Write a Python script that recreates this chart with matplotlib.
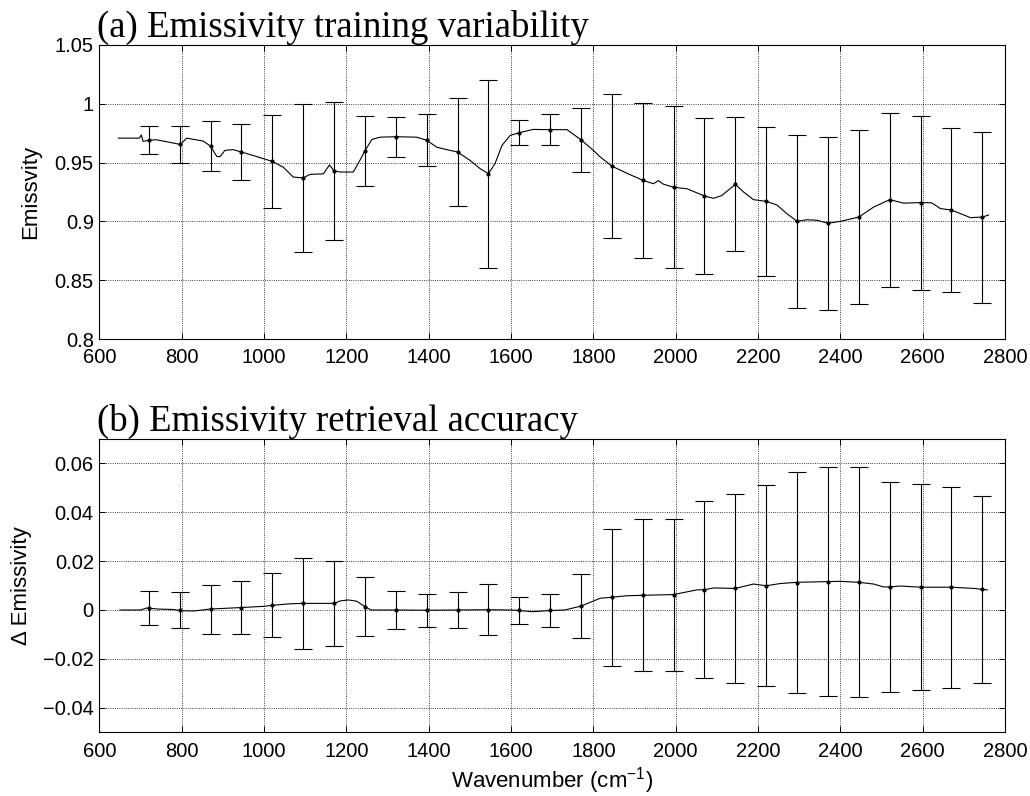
import matplotlib
matplotlib.use("Agg")
import matplotlib.pyplot as plt
import numpy as np

plt.rcParams['font.family'] = ['Liberation Sans', 'DejaVu Sans']
plt.rcParams['mathtext.fontset'] = 'custom'
plt.rcParams['mathtext.rm'] = 'Liberation Sans'

# wavenumbers of the sample points with error bars (cm-1)
wn_pts = [720, 795, 870, 945, 1020, 1095, 1170, 1245, 1320, 1395, 1470, 1545, 1620, 1695,
          1770, 1845, 1920, 1995, 2070, 2145, 2220, 2295, 2370, 2445, 2520, 2595, 2670, 2745]

# (a) training set mean emissivity and standard deviation
emis_mean = [0.969, 0.9654, 0.964, 0.959, 0.951, 0.937, 0.943, 0.960, 0.972, 0.969, 0.959, 0.9406,
             0.9754, 0.978, 0.9694, 0.947, 0.935, 0.929, 0.9216, 0.9315, 0.917, 0.900, 0.8984,
             0.9037, 0.9185, 0.916, 0.9097, 0.9037]
emis_std = [0.012, 0.0155, 0.021, 0.024, 0.0395, 0.063, 0.0585, 0.030, 0.017, 0.022, 0.046, 0.080,
            0.0105, 0.013, 0.027, 0.061, 0.066, 0.069, 0.066, 0.057, 0.063, 0.0735, 0.0735, 0.074,
            0.074, 0.074, 0.0695, 0.0727]

# (a) mean emissivity spectrum
spec_wn = [646, 697, 702, 706, 720, 739, 780, 797, 812, 852, 870, 885, 893, 905, 925, 945, 974,
           1020, 1047, 1071, 1095, 1112, 1144, 1159, 1170, 1184, 1217, 1233, 1245, 1262, 1282,
           1320, 1371, 1395, 1420, 1444, 1470, 1500, 1525, 1545, 1561, 1578, 1598, 1620, 1654,
           1695, 1736, 1770, 1800, 1816, 1845, 1881, 1920, 1946, 1958, 1970, 1995, 2027, 2070,
           2092, 2112, 2145, 2165, 2189, 2220, 2246, 2270, 2295, 2319, 2343, 2370, 2400, 2445,
           2481, 2520, 2554, 2595, 2622, 2643, 2670, 2716, 2745, 2760]
spec_emis = [0.9708, 0.9708, 0.9735, 0.9680, 0.969, 0.9694, 0.9666, 0.9654, 0.9708, 0.9683, 0.964,
             0.9553, 0.955, 0.9604, 0.961, 0.959, 0.956, 0.951, 0.946, 0.9377, 0.937, 0.940,
             0.9404, 0.948, 0.943, 0.942, 0.942, 0.952, 0.960, 0.9697, 0.9716, 0.972, 0.9716,
             0.969, 0.963, 0.961, 0.959, 0.952, 0.9448, 0.9406, 0.949, 0.9646, 0.9731, 0.9754,
             0.9782, 0.978, 0.978, 0.9694, 0.9604, 0.955, 0.947, 0.941, 0.935, 0.932, 0.9347,
             0.9317, 0.929, 0.9278, 0.9216, 0.9196, 0.922, 0.9315, 0.925, 0.9185, 0.917, 0.914,
             0.9066, 0.900, 0.9014, 0.901, 0.8984, 0.900, 0.9037, 0.9122, 0.9185, 0.9155, 0.916,
             0.9158, 0.9109, 0.9097, 0.9032, 0.9037, 0.9054]

# (b) retrieval bias and standard deviation
bias_mean = [0.0008, 0.0, 0.0004, 0.001, 0.0019, 0.0027, 0.0027, 0.0014, 0.0, -0.0001, 0.0, 0.0001,
             -0.0002, -0.0002, 0.0016, 0.0052, 0.006, 0.0063, 0.0083, 0.0088, 0.0099, 0.0112,
             0.0116, 0.0113, 0.0094, 0.0093, 0.0093, 0.0084]
bias_std = [0.007, 0.0073, 0.010, 0.011, 0.013, 0.0185, 0.0172, 0.012, 0.0077, 0.0068, 0.0075,
            0.0104, 0.0054, 0.0066, 0.0132, 0.028, 0.031, 0.031, 0.036, 0.0385, 0.041, 0.045,
            0.0467, 0.047, 0.043, 0.042, 0.041, 0.038]

# (b) bias spectrum
bias_wn = [650, 700, 715, 720, 740, 780, 800, 830, 870, 945, 1000, 1020, 1060, 1095, 1140, 1170,
           1185, 1205, 1225, 1245, 1260, 1320, 1395, 1470, 1545, 1600, 1620, 1650, 1680, 1695,
           1731, 1770, 1817, 1845, 1880, 1920, 1995, 2051, 2070, 2092, 2145, 2189, 2220, 2254,
           2295, 2370, 2400, 2445, 2481, 2505, 2520, 2546, 2595, 2670, 2725, 2745, 2757]
bias_spec = [0.0, 0.0, 0.0008, 0.0008, 0.0004, 0.0002, -0.0003, -0.0004, 0.0004, 0.001, 0.0015,
             0.0019, 0.0025, 0.0027, 0.0027, 0.0027, 0.0037, 0.0041, 0.0036, 0.0014, 0.0, 0.0,
             -0.0001, 0.0, 0.0001, 0.0, -0.0002, -0.0007, -0.0004, -0.0002, 0.0, 0.0016, 0.0048,
             0.0052, 0.0058, 0.006, 0.0063, 0.0082, 0.0083, 0.009, 0.0088, 0.0106, 0.0099, 0.0108,
             0.0113, 0.0116, 0.0117, 0.0113, 0.0106, 0.0094, 0.0094, 0.0098, 0.0093, 0.0093,
             0.0088, 0.0084, 0.0082]

xticks = [600, 800, 1000, 1200, 1400, 1600, 1800, 2000, 2200, 2400, 2600, 2800]
yticks_a = [0.8, 0.85, 0.9, 0.95, 1.0, 1.05]
ylabels_a = ['0.8', '0.85', '0.9', '0.95', '1', '1.05']
yticks_b = [-0.04, -0.02, 0, 0.02, 0.04, 0.06]
ylabels_b = ['\u22120.04', '\u22120.02', '0', '0.02', '0.04', '0.06']

fig = plt.figure(figsize=(10.30, 7.96), dpi=100)
ax1 = fig.add_axes([0.0965, 0.5741, 0.8792, 0.3694])
ax2 = fig.add_axes([0.0965, 0.0798, 0.8792, 0.3693])


def style(ax, yticks, ylabels, ylim):
    ax.set_xlim(600, 2800)
    ax.set_ylim(*ylim)
    ax.set_xticks(xticks)
    ax.set_xticklabels([str(t) for t in xticks])
    ax.set_yticks(yticks)
    ax.set_yticklabels(ylabels)
    ax.tick_params(direction='in', top=True, right=True, length=4, width=0.7,
                   labelsize=14.5)
    ax.tick_params(axis='x', pad=6.5)
    ax.tick_params(axis='y', pad=4)
    ax.grid(True, color='k', linestyle=':', linewidth=0.6)
    for s in ax.spines.values():
        s.set_linewidth(0.8)


ax1.plot(spec_wn, spec_emis, color='k', lw=0.8)
ax1.errorbar(wn_pts, emis_mean, yerr=emis_std, fmt='.', color='k', ms=4,
             elinewidth=0.8, capsize=6.5, capthick=0.8)
style(ax1, yticks_a, ylabels_a, (0.8, 1.05))
ax1.set_ylabel('Emissvity', fontsize=16)
ax1.yaxis.set_label_coords(-0.064, 0.5)
ax1.text(-0.003, 1.027, '(a) Emissivity training variability', transform=ax1.transAxes,
         fontsize=26.5, family='Liberation Serif', ha='left', va='baseline')

ax2.plot(bias_wn, bias_spec, color='k', lw=0.8)
ax2.errorbar(wn_pts, bias_mean, yerr=bias_std, fmt='.', color='k', ms=4,
             elinewidth=0.8, capsize=6.5, capthick=0.8)
style(ax2, yticks_b, ylabels_b, (-0.05, 0.07))
ax2.set_ylabel('\u0394 Emissivity', fontsize=16)
ax2.yaxis.set_label_coords(-0.074, 0.5)
ax2.set_xlabel('Wavenumber (cm$^{-1}$)', fontsize=16, labelpad=3)
ax2.text(-0.003, 1.027, '(b) Emissivity retrieval accuracy', transform=ax2.transAxes,
         fontsize=26.5, family='Liberation Serif', ha='left', va='baseline')

fig.savefig('out.png', dpi=100)
